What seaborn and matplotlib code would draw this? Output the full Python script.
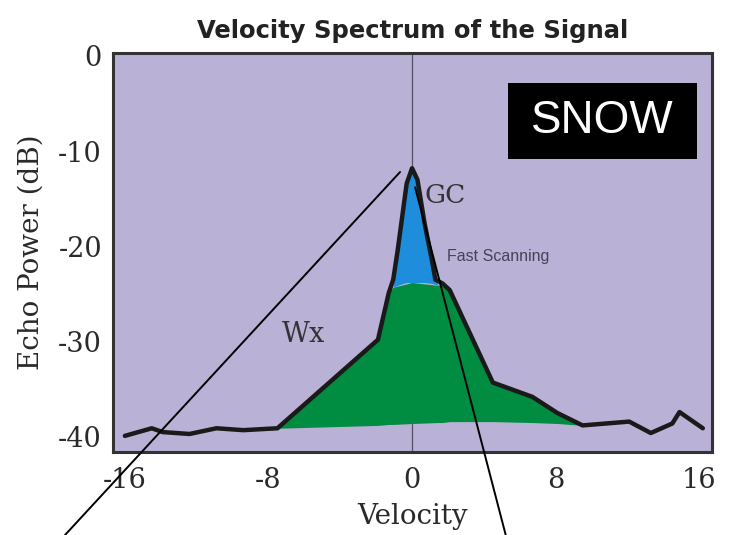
import numpy as np
import pandas as pd
import matplotlib
matplotlib.use("Agg")
import matplotlib.pyplot as plt
import seaborn as sns

# ---- data ----
spec_vel = [-16.0, -14.5, -13.9, -12.4, -10.9, -9.4, -7.5, -1.9, -1.3, -1.05, -0.8, -0.5,
            -0.3, 0.0, 0.3, 0.7, 1.1, 1.3, 1.7, 2.1, 4.5, 6.7, 8.1, 9.5, 12.1, 13.3,
            14.5, 14.9, 16.2]
spec_power = [-39.9, -39.1, -39.5, -39.7, -39.1, -39.3, -39.1, -29.8, -24.9, -23.5, -20.4, -16.2,
              -13.4, -11.8, -13.0, -17.6, -21.4, -23.5, -23.9, -24.6, -34.3, -35.8, -37.5, -38.8,
              -38.4, -39.6, -38.6, -37.4, -39.1]

wx_vel = [-7.5, -1.9, -1.3, -1.05, 0.0, 1.45, 1.7, 2.1, 4.5, 6.7, 8.1, 9.5]
wx_top = [-39.1, -29.8, -24.9, -24.3, -23.8, -24.1, -24.0, -24.6, -34.3, -35.8, -37.5, -38.8]
wx_bottom = [-39.1, -38.8, -38.7, -38.7, -38.6, -38.5, -38.5, -38.4, -38.4, -38.5, -38.6, -38.8]

gc_vel = [-1.05, -0.8, -0.5, -0.3, 0.0, 0.3, 0.7, 1.1, 1.3, 1.45]
gc_top = [-24.3, -20.4, -16.2, -13.4, -11.8, -13.0, -17.6, -21.4, -23.5, -24.1]
gc_bottom = [-24.3, -24.1, -23.9, -23.8, -23.8, -23.8, -23.8, -23.9, -24.0, -24.1]

x_ticks = [-16, -8, 0, 8, 16]
y_ticks = [0, -10, -20, -30, -40]

# ---- styling ----
sns.set_theme(style="white")
plt.rcParams['font.family'] = ['DejaVu Serif']

BG = '#BAB1D6'
GREEN = '#008C41'
BLUE = '#1E8EDC'
INK = '#1a1a1a'

fig = plt.figure(figsize=(7.34, 5.35), dpi=100)
ax = fig.add_axes([0.154, 0.155, 0.816, 0.746])
ax.set_facecolor(BG)

# zero-velocity reference line
ax.axvline(0, color='#55506a', lw=0.9, zorder=1)

# filled regions
ax.fill_between(gc_vel, gc_bottom, gc_top, color=BLUE, lw=0, zorder=2)
ax.fill_between(wx_vel, wx_bottom, wx_top, color=GREEN, lw=0, zorder=3)

df = pd.DataFrame({'Velocity': spec_vel, 'Power': spec_power})
sns.lineplot(data=df, x='Velocity', y='Power', ax=ax, color=INK, lw=3.2,
             sort=False, zorder=4, solid_joinstyle='round', solid_capstyle='round')

ax.set_xlim(-16.66, 16.71)
ax.set_ylim(-41.6, 0.3)
ax.set_xticks(x_ticks)
ax.set_yticks(y_ticks)
ax.set_xticklabels([str(t) for t in x_ticks])
ax.set_yticklabels([str(t) for t in y_ticks])
ax.tick_params(axis='both', length=0, labelsize=19.5, labelcolor='#2a2a2a')
ax.tick_params(axis='x', pad=11)
ax.tick_params(axis='y', pad=8)

for s in ax.spines.values():
    s.set_visible(True)
    s.set_color('#333333')
    s.set_linewidth(2.2)

ax.set_xlabel('Velocity', fontsize=20, color='#2a2a2a', labelpad=6)
ax.set_ylabel('Echo Power (dB)', fontsize=20, color='#2a2a2a', labelpad=10)
ax.set_title('Velocity Spectrum of the Signal', fontsize=17.5, fontweight='bold',
             family=['DejaVu Sans'], color='#222222', pad=11)

# labels inside the plot
ax.text(0.72, -14.7, 'GC', fontsize=19, color='#333333', ha='left', va='center', zorder=6)
ax.text(-6.07, -29.3, 'Wx', fontsize=19.5, color='#333333', ha='center', va='center', zorder=6)
ax.text(1.95, -21.1, 'Fast Scanning', fontsize=11.5, family=['Liberation Sans'],
        color='#444455', ha='left', va='center', zorder=6)

# SNOW box
ax.add_patch(plt.Rectangle((0.659, 0.734), 0.316, 0.191, transform=ax.transAxes,
                           facecolor='black', edgecolor='none', zorder=7))
ax.text(0.817, 0.830, 'SNOW', transform=ax.transAxes, fontsize=33,
        family=['Liberation Sans'], color='white', ha='center', va='center', zorder=8)

# diagonal pointer lines running out of the plot
ax.annotate('', xy=(-0.67, -12.2), xycoords='data', xytext=(0.0886, 0.0),
            textcoords='figure fraction',
            arrowprops=dict(arrowstyle='-', lw=1.4, color='black', shrinkA=0, shrinkB=0),
            zorder=9, annotation_clip=False)
ax.annotate('', xy=(0.17, -13.8), xycoords='data', xytext=(0.689, 0.0),
            textcoords='figure fraction',
            arrowprops=dict(arrowstyle='-', lw=1.4, color='black', shrinkA=0, shrinkB=0),
            zorder=9, annotation_clip=False)

fig.savefig('out.png', dpi=100)
